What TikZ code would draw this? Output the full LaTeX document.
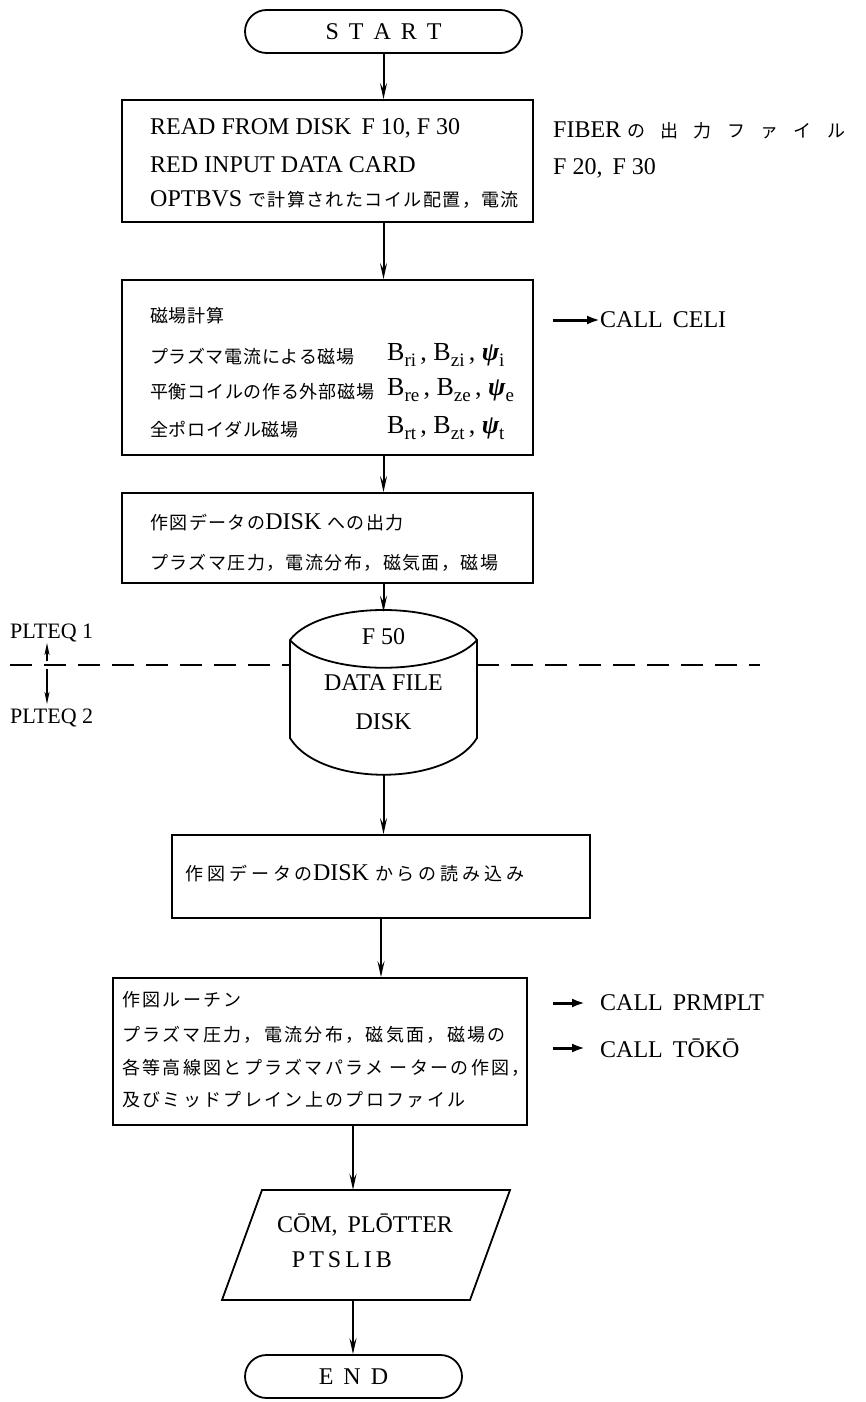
\documentclass[tikz,border=0pt]{standalone}
\usepackage{fontspec}
\setmainfont{Liberation Serif}
\newfontfamily\jp[LetterSpace=8]{Noto Sans CJK JP}
\newfontfamily\jpn[LetterSpace=4]{Noto Sans CJK JP}
\newfontfamily\jpf[LetterSpace=13]{Noto Sans CJK JP}
\newfontfamily\jpm[LetterSpace=22]{Noto Sans CJK JP}
\newfontfamily\jpw[LetterSpace=85]{Noto Sans CJK JP}
\usetikzlibrary{arrows.meta}
\newcommand\J[1]{{\fontsize{18}{24}\selectfont\jp #1}}
\newcommand\JN[1]{{\fontsize{18}{24}\selectfont\jpn #1}}
\newcommand\JF[1]{{\fontsize{18}{24}\selectfont\jpf #1}}
\newcommand\JM[1]{{\fontsize{18}{24}\selectfont\jpm #1}}
\newcommand\JW[1]{{\fontsize{18}{24}\selectfont\jpw #1}}
\newcommand\sbs[1]{\raisebox{-6pt}{\fontsize{19}{19}\selectfont #1}}
\newcommand\Psy{{\bfseries\itshape ψ}}
\newcommand\gp{\hspace{10pt}}
\begin{document}
\begin{tikzpicture}[x=1pt,y=-1pt,
  box/.style={draw, line width=1.8pt, inner sep=0pt},
  term/.style={draw, line width=1.8pt, rounded corners=21.5pt, minimum height=43pt, inner sep=0pt, font=\fontsize{24}{30}\selectfont},
  flow/.style={line width=2pt, -{Stealth[length=16pt,width=7pt,inset=6pt]}},
  call/.style={line width=3pt, -{Latex[length=13pt,width=9pt]}},
  thinarrow/.style={line width=1.5pt, -{Stealth[length=12pt,width=5pt,inset=3pt]}},
  lat/.style={font=\fontsize{24}{30}\selectfont, inner sep=0pt, anchor=west},
  ctr/.style={font=\fontsize{24}{30}\selectfont, inner sep=0pt}]
\useasboundingbox (0,0) rectangle (866,1402);

% terminators and boxes
\node[term, minimum width=277pt] (start) at (383.5,31.5) {S\gp T\gp A\gp R\gp T};
\node[box, minimum width=411pt, minimum height=122pt] (b1) at (327.5,161) {};
\node[box, minimum width=411pt, minimum height=175pt] (b2) at (327.5,367.5) {};
\node[box, minimum width=411pt, minimum height=90pt] (b3) at (327.5,538) {};
\node[inner sep=0pt, minimum width=187pt, minimum height=163pt] (disk) at (383.5,693.5) {};
\node[box, minimum width=418pt, minimum height=83pt] (b4) at (381,876.5) {};
\node[box, minimum width=414pt, minimum height=147pt] (b5) at (320,1051.5) {};
\node[inner sep=0pt, minimum width=248pt, minimum height=110pt] (io) at (353,1245) {};
\node[term, minimum width=217pt] (end) at (353.5,1376.5) {E\gp N\gp D};

% disk shape
\draw[line width=1.8pt] (290,640) .. controls (320,600) and (447,600) .. (477,640)
  -- (477,738) .. controls (447,787) and (320,787) .. (290,738) -- cycle;
\draw[line width=1.8pt] (290,640) .. controls (322,677) and (445,677) .. (477,640);
% parallelogram
\draw[line width=1.8pt] (262,1190) -- (510,1190) -- (470,1300) -- (222,1300) -- cycle;

% box 1 text
\node[lat] (t11) at (150,128) {READ FROM DISK\gp F 10, F 30};
\node[lat] (t12) at (150,165) {RED INPUT DATA CARD};
\node[lat] (t13) at (150,200) {OPTBVS \J{で計算されたコイル配置，電流}};
\node[lat] (f1) at (553,130) {FIBER \JW{の出力ファイル}};
\node[lat] (f2) at (553,168) {F 20,\gp F 30};

% box 2 text
\node[lat] (t21) at (150,316) {\JN{磁場計算}};
\node[lat] (t22) at (150,357) {\JN{プラズマ電流による磁場}};
\node[lat] (t23) at (150,392) {\JN{平衡コイルの作る外部磁場}};
\node[lat] (t24) at (150,430) {\JN{全ポロイダル磁場}};
\node[lat, font=\fontsize{26}{30}\selectfont] (m1) at (387,355) {B\sbs{ri}\,, B\sbs{zi}\,, \Psy\sbs{i}};
\node[lat, font=\fontsize{26}{30}\selectfont] (m2) at (387,390) {B\sbs{re}\,, B\sbs{ze}\,, \Psy\sbs{e}};
\node[lat, font=\fontsize{26}{30}\selectfont] (m3) at (387,428) {B\sbs{rt}\,, B\sbs{zt}\,, \Psy\sbs{t}};
\coordinate (c1) at (553,320);
\node[lat] (celi) at (600,320) {CALL\gp CELI};
\draw[call] (c1) -- (celi.west);

% box 3 text
\node[lat] (t31) at (150,522) {\J{作図データの}DISK \J{への出力}};
\node[lat] (t32) at (150,563) {\J{プラズマ圧力，電流分布，磁気面，磁場}};

% disk text
\node[ctr] (d1) at (383.5,637) {F 50};
\node[ctr] (d2) at (383.5,683) {DATA FILE};
\node[ctr] (d3) at (383.5,722) {DISK};

% dashed separation
\coordinate (dl) at (10,665);
\coordinate (dr) at (760,665);
\draw[line width=1.6pt, dash pattern=on 22pt off 12pt] (dl) -- (disk.west |- dl);
\draw[line width=1.6pt, dash pattern=on 22pt off 12pt] (disk.east |- dr) -- (dr);
\node[lat, font=\fontsize{22}{26}\selectfont] (p1) at (10,633) {PLTEQ 1};
\node[lat, font=\fontsize{22}{26}\selectfont] (p2) at (10,718) {PLTEQ 2};
\coordinate (ua) at (47,661);
\coordinate (ub) at (47,643);
\coordinate (da) at (47,669);
\coordinate (db) at (47,704);
\draw[thinarrow] (ua) -- (ub);
\draw[thinarrow] (da) -- (db);

% box 4 text
\node[lat] (t41) at (185,873) {\JM{作図データの}DISK \JM{からの読み込み}};

% box 5 text
\node[lat] (t51) at (122,1000) {\JF{作図ルーチン}};
\node[lat] (t52) at (122,1035) {\JF{プラズマ圧力，電流分布，磁気面，磁場の}};
\node[lat] (t53) at (122,1068) {\JF{各等高線図とプラズマパラメ ーターの作図，}};
\node[lat] (t54) at (122,1100) {\JF{及びミッドプレイン上のプロファイル}};
\coordinate (c2) at (553,1003);
\coordinate (c3) at (553,1048);
\node[lat] (prm) at (600,1003) {CALL\gp PRMPLT};
\node[lat] (tok) at (600,1048) {CALL\gp TŌKŌ};
\draw[call] (c2) -- ([xshift=-15pt]prm.west);
\draw[call] (c3) -- ([xshift=-15pt]tok.west);

% io text
\node[ctr] (o1) at (365,1225) {CŌM,\gp PLŌTTER};
\node[ctr] (o2) at (342,1260) {P\,T\,S\,L\,I\,B};

% flow connectors
\draw[flow] (start.south) -- (start.south |- b1.north);
\draw[flow] (start.south |- b1.south) -- (start.south |- b2.north);
\draw[flow] (start.south |- b2.south) -- (start.south |- b3.north);
\draw[flow] (disk.north |- b3.south) -- (disk.north);
\draw[flow] (disk.south) -- (disk.south |- b4.north);
\draw[flow] (b4.south) -- (b4.south |- b5.north);
\draw[flow] (io.north |- b5.south) -- (io.north);
\draw[flow] (io.south) -- (io.south |- end.north);
\end{tikzpicture}
\end{document}
